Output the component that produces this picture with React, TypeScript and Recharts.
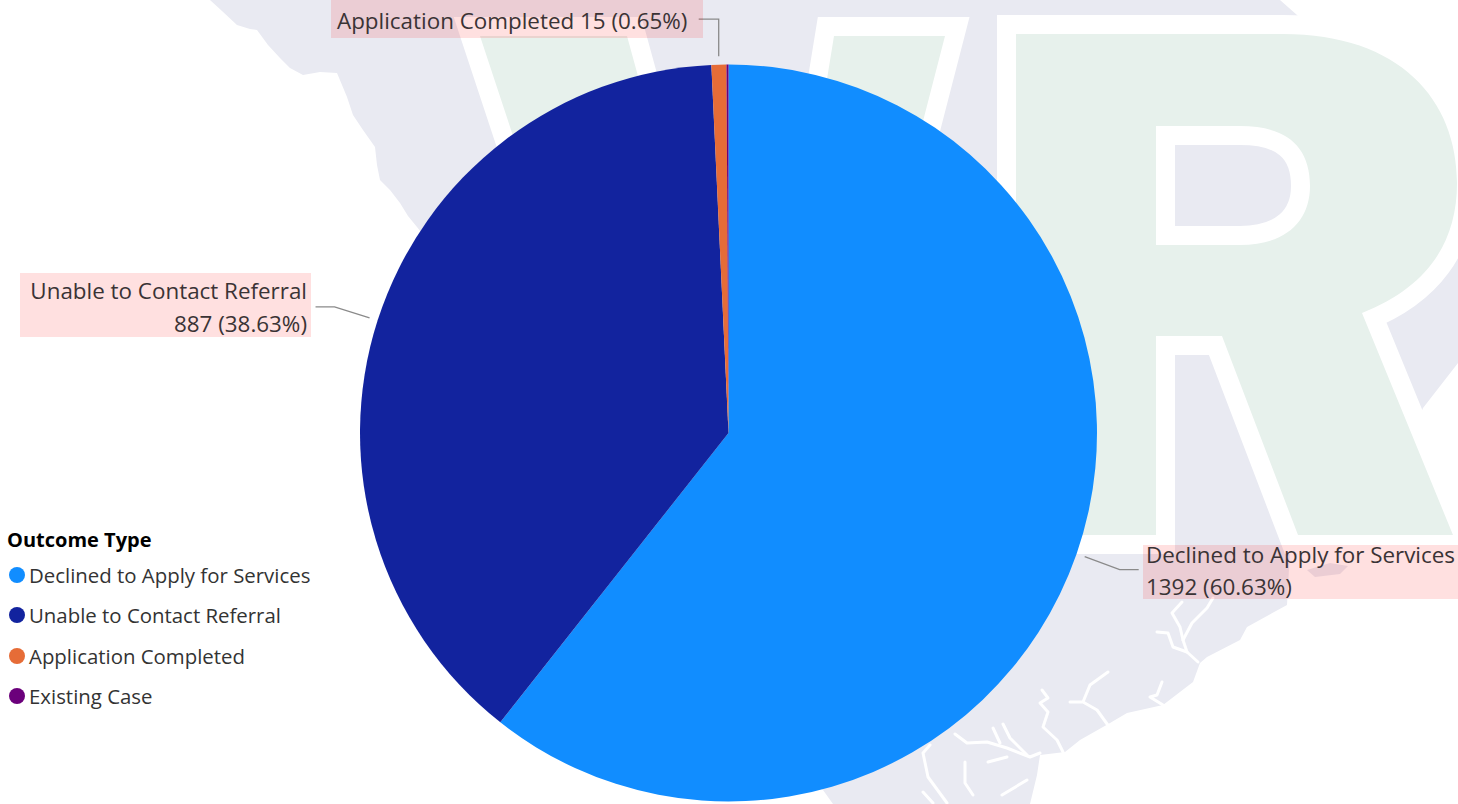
import * as React from 'react';
import { PieChart, Pie, Cell, Legend } from 'recharts';

const categories = [
  'Declined to Apply for Services',
  'Unable to Contact Referral',
  'Application Completed',
  'Existing Case',
];
const counts = [1392, 887, 15, 2];
const colors = ['#118DFF', '#12239E', '#E66C37', '#6B007B'];

const rows = categories.map((name, i) => ({ name, value: counts[i] }));

const FONT = '"Open Sans", "Noto Sans", sans-serif';
const RAD = Math.PI / 180;

// where each outside label sits on the page
const labelBoxes = [
  { x: 1143, y: 545, w: 315, h: 54, tx: 1146, anchor: 'start', ys: [563, 595], elbow: [35, 13], end: 19, oneLine: false },
  { x: 20, y: 273, w: 291, h: 64, tx: 307, anchor: 'end', ys: [299, 332], elbow: [-35, -11], end: -19, oneLine: false },
  { x: 331, y: 0, w: 372, h: 38, tx: 337, anchor: 'start', ys: [29], elbow: [0, -37], end: -20, oneLine: true },
];

function leaderStart(p: any) {
  const r = p.outerRadius + 8.5;
  return [p.cx + r * Math.cos(-p.midAngle * RAD), p.cy + r * Math.sin(-p.midAngle * RAD)];
}

function Leader(p: any) {
  const box = labelBoxes[p.index];
  if (!box) return <g key={`line-${p.index}`} />;
  const [x, y] = leaderStart(p);
  const ex = x + box.elbow[0];
  const ey = y + box.elbow[1];
  return (
    <path
      key={`line-${p.index}`}
      d={`M${x},${y}L${ex},${ey}L${ex + box.end},${ey}`}
      fill="none"
      stroke="#8a8a8a"
      strokeWidth={1.3}
    />
  );
}

function OutsideLabel(p: any) {
  const box = labelBoxes[p.index];
  if (!box) return <g key={`label-${p.index}`} />;
  const amount = `${p.value} (${(p.percent * 100).toFixed(2)}%)`;
  const lines = box.oneLine ? [`${p.name} ${amount}`] : [p.name, amount];
  return (
    <g key={`label-${p.index}`}>
      <rect x={box.x} y={box.y} width={box.w} height={box.h} fill="#ff0000" fillOpacity={0.12} />
      {lines.map((t: string, i: number) => (
        <text
          key={t}
          x={box.tx}
          y={box.ys[i]}
          textAnchor={box.anchor}
          fontFamily={FONT}
          fontSize={22.4}
          fill="#3a3335"
        >
          {t}
        </text>
      ))}
    </g>
  );
}

function OutcomeLegend() {
  return (
    <div style={{ position: 'relative', width: 340, height: 190, fontFamily: FONT, color: '#333' }}>
      <div style={{ position: 'absolute', left: 7, top: 0, fontSize: 20, fontWeight: 700, color: '#000', lineHeight: '26px', whiteSpace: 'nowrap' }}>
        Outcome Type
      </div>
      {categories.map((c, i) => (
        <div key={c} style={{ position: 'absolute', left: 0, top: 35 + i * 40.3, height: 26, whiteSpace: 'nowrap' }}>
          <span style={{ position: 'absolute', left: 9, top: 5, width: 16, height: 16, borderRadius: 8, background: colors[i] }} />
          <span style={{ position: 'absolute', left: 29, top: 0, fontSize: 20.4, lineHeight: '26px' }}>{c}</span>
        </div>
      ))}
    </div>
  );
}

// faint logo watermark behind the chart
function Watermark() {
  const map = '#E9EAF2';
  const river = (d: string, k: number) => (
    <path key={k} d={d} fill="none" stroke="#fff" strokeWidth={3} strokeLinejoin="round" strokeLinecap="round" />
  );
  const rivers = [
    'M955,734L967,743L987,742L1007,748L1030,757L1040,753',
    'M993,728L1000,743',
    'M1003,724L1010,738L1027,755',
    'M988,762L1007,757',
    'M965,762L965,783L973,795',
    'M1002,795L1027,780',
    'M930,745L923,753L928,777L947,803',
    'M923,792L933,803',
    'M1042,690L1048,698L1040,703L1048,712L1043,727L1057,740L1063,752',
    'M1108,672L1090,685L1083,702L1070,702M1083,702L1097,710L1110,728',
    'M1162,682L1157,695L1150,697L1163,705',
    'M1182,602L1172,613L1180,627L1183,640L1187,652L1198,662',
    'M1157,632L1168,633L1173,647L1187,652',
    'M1183,640L1192,623L1207,608L1213,598',
  ];
  return (
    <svg width={1458} height={804} style={{ position: 'absolute', left: 0, top: 0 }}>
      <path
        fill={map}
        d="M210,0L222,11L237,25L250,29L257,30L268,45L280,58L290,68L303,75L320,72L337,73L342,85L347,97L353,115L363,130L375,147L377,165L380,180L390,190L400,203L408,216L417,227L450,270L600,600L823,790L833,804L1030,804L1037,775L1040,755L1065,752L1080,740L1110,723L1127,713L1163,705L1193,682L1200,663L1207,657L1240,640L1247,627L1287,605L1290,550L1380,520L1423,408L1458,363L1458,200L1297,15L1280,0Z"
      />
      <path fill={map} d="M1307,570L1330,563L1348,566L1340,574L1315,577Z" />
      {rivers.map(river)}
      <g fill="#E7F1EC" stroke="#fff" strokeWidth={38} strokeLinejoin="miter" style={{ paintOrder: 'stroke' }}>
        <path d="M480,36L627,36L735,430L770,430L834,36L945,36L820,520L640,520Z" />
        <path
          fillRule="evenodd"
          d="M1016,34L1283,34C1400,34 1457,100 1457,183C1457,245 1425,288 1362,313L1453,535L1298,535L1222,336L1156,336L1156,535L1016,535ZM1156,126L1240,126C1285,126 1310,145 1310,186C1310,222 1285,245 1240,245L1156,245Z"
        />
      </g>
    </svg>
  );
}

export default function App() {
  return (
    <div style={{ position: 'absolute', left: 0, top: 0, width: 1458, height: 804, overflow: 'hidden', background: '#fff' }}>
      <Watermark />
      <div style={{ position: 'absolute', left: 0, top: 0 }}>
        <PieChart width={1458} height={804} margin={{ top: 0, right: 0, bottom: 0, left: 0 }}>
          <Pie
            data={rows}
            dataKey="value"
            nameKey="name"
            cx={728.5}
            cy={433}
            innerRadius={0}
            outerRadius={368.5}
            startAngle={90}
            endAngle={-270}
            stroke="none"
            label={OutsideLabel}
            labelLine={Leader}
            isAnimationActive={false}
          >
            {rows.map((r, i) => (
              <Cell key={r.name} fill={colors[i]} />
            ))}
          </Pie>
          <Legend
            content={<OutcomeLegend />}
            wrapperStyle={{ position: 'absolute', left: 0, top: 527, width: 340, height: 190, bottom: 'auto' }}
          />
        </PieChart>
      </div>
    </div>
  );
}
